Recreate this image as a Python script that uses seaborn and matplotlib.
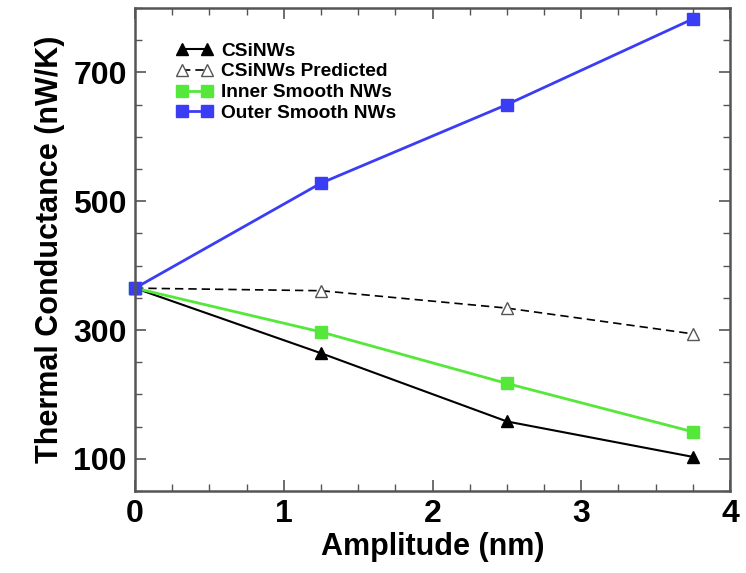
import matplotlib
matplotlib.use("Agg")
import matplotlib.pyplot as plt
import seaborn as sns
import pandas as pd
from matplotlib.ticker import MultipleLocator

amplitude = [0, 1.25, 2.5, 3.75]
csinws = [365, 264, 158, 103]
csinws_pred = [365, 361, 334, 294]
inner_smooth = [365, 297, 217, 142]
outer_smooth = [365, 528, 650, 783]

series_names = ["CSiNWs", "CSiNWs Predicted", "Inner Smooth NWs", "Outer Smooth NWs"]

sns.set_style("ticks")
plt.rcParams['font.family'] = ['Liberation Sans', 'DejaVu Sans']
plt.rcParams['text.color'] = 'black'
plt.rcParams['axes.labelcolor'] = 'black'
plt.rcParams['xtick.labelcolor'] = 'black'
plt.rcParams['ytick.labelcolor'] = 'black'

df = pd.DataFrame({
    "Amplitude": amplitude * 4,
    "G": csinws + csinws_pred + inner_smooth + outer_smooth,
    "Series": sum([[n] * len(amplitude) for n in series_names], []),
})

fig = plt.figure(figsize=(7.46, 5.73), dpi=100)
ax = fig.add_axes([135/746, 1 - 491/573, (730-135)/746, (491-8)/573])

styles = {
    "CSiNWs": dict(color="black", marker="^", ls="-", mfc="black", mec="black", ms=9, lw=1.5),
    "CSiNWs Predicted": dict(color="black", marker="^", ls=(0, (5, 3)), mfc="white", mec="#555555", ms=9, lw=1.2),
    "Inner Smooth NWs": dict(color="#55e83a", marker="s", ls="-", mfc="#55e83a", mec="#55e83a", ms=9, lw=2),
    "Outer Smooth NWs": dict(color="#3b3df5", marker="s", ls="-", mfc="#3b3df5", mec="#3b3df5", ms=9, lw=2),
}
order = ["CSiNWs Predicted", "CSiNWs", "Inner Smooth NWs", "Outer Smooth NWs"]
handles = {}
for name in order:
    sub = df[df["Series"] == name]
    st = styles[name]
    sns.lineplot(data=sub, x="Amplitude", y="G", ax=ax, color=st["color"], lw=st["lw"],
                 linestyle="-", marker=st["marker"],
                 markersize=st["ms"], markerfacecolor=st["mfc"], markeredgecolor=st["mec"],
                 markeredgewidth=1, clip_on=False, legend=False, label=name)
    line = ax.lines[-1]
    line.set_linestyle(st["ls"])
    handles[name] = line

ax.set_xlim(0, 4)
ax.set_ylim(50, 800)
ax.xaxis.set_major_locator(MultipleLocator(1))
ax.xaxis.set_minor_locator(MultipleLocator(0.25))
ax.set_yticks([100, 300, 500, 700])
ax.yaxis.set_minor_locator(MultipleLocator(50))
ax.tick_params(which="both", direction="in", top=True, right=True, color="#555555")
ax.tick_params(which="major", length=8, width=1.2)
ax.tick_params(which="minor", length=5, width=1.0)
ax.tick_params(axis="both", labelsize=23, pad=6, labelcolor="black")
for lab in ax.get_xticklabels() + ax.get_yticklabels():
    lab.set_fontweight("bold")
for sp in ax.spines.values():
    sp.set_linewidth(1.8)
    sp.set_color("#555555")

ax.set_xlabel("Amplitude (nm)", fontsize=22, fontweight="bold", labelpad=2, color="black")
ax.set_ylabel("Thermal Conductance (nW/K)", fontsize=22, fontweight="bold", labelpad=6, color="black")

leg = ax.legend([handles[n] for n in series_names], series_names, loc="upper left",
                bbox_to_anchor=(0.04, 0.965), frameon=False, numpoints=2,
                handlelength=1.9, handletextpad=0.45, labelspacing=0.18,
                prop={"weight": "bold", "size": 13.8})
for h in leg.legend_handles:
    h.set_markersize(9)

fig.savefig("out.png", dpi=100)
